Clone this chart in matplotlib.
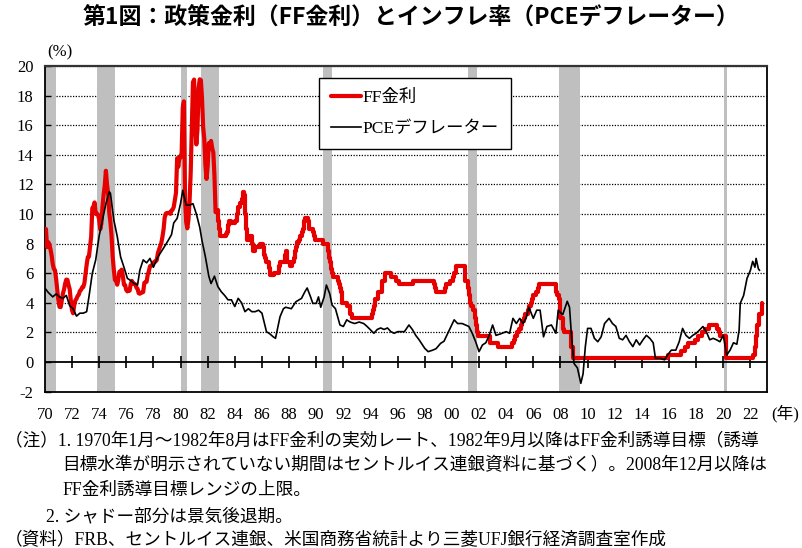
import matplotlib
matplotlib.use('Agg')
import matplotlib.pyplot as plt
import pandas as pd

SERIF = ['Liberation Serif', 'Noto Sans CJK JP']
GOTHIC = ['Noto Sans CJK JP', 'DejaVu Sans']

# FF effective rate, monthly, 1970-01 .. 1982-08
eff_start = '1970-01'
eff_values = [
    8.98, 8.98, 7.76, 8.10, 7.95, 7.61, 7.21, 6.61, 6.29, 6.20, 5.60, 4.90,
    4.14, 3.72, 3.71, 4.16, 4.63, 4.91, 5.31, 5.57, 5.55, 5.20, 4.91, 4.14,
    3.50, 3.29, 3.83, 4.17, 4.27, 4.46, 4.55, 4.80, 4.87, 5.04, 5.06, 5.33,
    5.94, 6.58, 7.09, 7.12, 7.84, 8.49, 10.40, 10.50, 10.78, 10.01, 10.03, 9.95,
    9.65, 8.97, 9.35, 10.51, 11.31, 11.93, 12.92, 12.01, 11.34, 10.06, 9.45, 8.53,
    7.13, 6.24, 5.54, 5.49, 5.22, 5.55, 6.10, 6.14, 6.24, 5.82, 5.22, 5.20,
    4.87, 4.77, 4.84, 4.82, 5.29, 5.48, 5.31, 5.29, 5.25, 5.02, 4.95, 4.65,
    4.61, 4.68, 4.69, 4.73, 5.35, 5.39, 5.42, 5.90, 6.14, 6.47, 6.51, 6.56,
    6.70, 6.78, 6.79, 6.89, 7.36, 7.60, 7.81, 8.04, 8.45, 8.96, 9.76, 10.03,
    10.07, 10.06, 10.09, 10.01, 10.24, 10.29, 10.47, 10.94, 11.43, 13.77, 13.18, 13.78,
    13.82, 14.13, 17.19, 17.61, 10.98, 9.47, 9.03, 9.61, 10.87, 12.81, 15.85, 18.90,
    19.08, 15.93, 14.70, 15.72, 18.52, 19.10, 19.04, 17.82, 15.87, 15.08, 13.31, 12.37,
    13.22, 14.78, 14.68, 14.94, 14.45, 14.15, 12.59, 10.12,
]

# FF target (upper bound after 2008-12), months where the level changes
tgt_months = [
    '1982-09', '1982-10', '1982-11', '1982-12', '1983-05', '1983-06', '1983-07', '1983-08',
    '1983-10', '1984-01', '1984-03', '1984-04', '1984-06', '1984-07', '1984-08', '1984-09',
    '1984-10', '1984-11', '1984-12', '1985-02', '1985-04', '1985-05', '1985-07', '1985-11',
    '1986-02', '1986-03', '1986-04', '1986-05', '1986-07', '1986-08', '1986-12', '1987-04',
    '1987-05', '1987-09', '1987-10', '1987-11', '1988-02', '1988-04', '1988-05', '1988-06',
    '1988-07', '1988-08', '1988-10', '1988-11', '1988-12', '1989-01', '1989-02', '1989-03',
    '1989-06', '1989-07', '1989-10', '1989-11', '1989-12', '1990-07', '1990-11', '1990-12',
    '1991-01', '1991-02', '1991-03', '1991-04', '1991-08', '1991-09', '1991-10', '1991-11',
    '1991-12', '1992-04', '1992-07', '1992-09', '1994-02', '1994-03', '1994-04', '1994-05',
    '1994-08', '1994-11', '1995-02', '1995-07', '1995-12', '1996-02', '1997-03', '1998-09',
    '1998-10', '1998-11', '1999-07', '1999-08', '1999-11', '2000-02', '2000-03', '2000-05',
    '2001-01', '2001-03', '2001-04', '2001-05', '2001-06', '2001-08', '2001-09', '2001-10',
    '2001-11', '2001-12', '2002-11', '2003-06', '2004-06', '2004-08', '2004-09', '2004-11',
    '2004-12', '2005-02', '2005-03', '2005-05', '2005-06', '2005-08', '2005-09', '2005-11',
    '2005-12', '2006-01', '2006-03', '2006-05', '2006-06', '2007-09', '2007-10', '2007-12',
    '2008-01', '2008-03', '2008-04', '2008-10', '2008-12', '2015-12', '2016-12', '2017-03',
    '2017-06', '2017-12', '2018-03', '2018-06', '2018-09', '2018-12', '2019-07', '2019-09',
    '2019-10', '2020-03', '2022-03', '2022-05', '2022-06', '2022-07', '2022-09', '2022-11',
]
tgt_values = [
    10.25, 9.5, 9.0, 8.5, 8.625, 8.75, 9.25, 9.5,
    9.375, 9.5, 10.0, 10.5, 10.75, 11.0, 11.5, 11.25,
    10.0, 9.0, 8.25, 8.5, 8.0, 7.5, 7.75, 8.0,
    7.75, 7.25, 7.0, 6.75, 6.375, 5.875, 6.0, 6.5,
    6.75, 7.25, 7.5, 6.75, 6.5, 6.75, 7.0, 7.5,
    7.75, 8.125, 8.25, 8.5, 8.75, 9.0, 9.5, 9.75,
    9.5, 9.0, 8.75, 8.5, 8.25, 8.0, 7.5, 7.0,
    6.75, 6.25, 6.0, 5.75, 5.5, 5.25, 5.0, 4.75,
    4.0, 3.75, 3.25, 3.0, 3.25, 3.5, 3.75, 4.25,
    4.75, 5.5, 6.0, 5.75, 5.5, 5.25, 5.5, 5.25,
    5.0, 4.75, 5.0, 5.25, 5.5, 5.75, 6.0, 6.5,
    5.5, 5.0, 4.5, 4.0, 3.75, 3.5, 3.0, 2.5,
    2.0, 1.75, 1.25, 1.0, 1.25, 1.5, 1.75, 2.0,
    2.25, 2.5, 2.75, 3.0, 3.25, 3.5, 3.75, 4.0,
    4.25, 4.5, 4.75, 5.0, 5.25, 4.75, 4.5, 4.25,
    3.0, 2.25, 2.0, 1.0, 0.25, 0.5, 0.75, 1.0,
    1.25, 1.5, 1.75, 2.0, 2.25, 2.5, 2.25, 2.0,
    1.75, 0.25, 0.5, 1.0, 1.75, 2.5, 3.25, 4.0,
]

# PCE deflator, y/y %
pce_months = [
    '1970-01', '1970-04', '1970-08', '1970-11', '1971-02', '1971-05', '1971-08', '1971-11',
    '1972-02', '1972-05', '1972-08', '1972-11', '1973-02', '1973-04', '1973-07', '1973-10',
    '1974-01', '1974-04', '1974-07', '1974-10', '1974-11', '1975-02', '1975-05', '1975-08',
    '1975-11', '1976-02', '1976-05', '1976-08', '1976-11', '1977-01', '1977-04', '1977-07',
    '1977-10', '1978-01', '1978-05', '1978-10', '1979-02', '1979-05', '1979-07', '1979-10',
    '1980-01', '1980-03', '1980-06', '1980-09', '1980-12', '1981-03', '1981-06', '1981-08',
    '1981-11', '1982-02', '1982-04', '1982-07', '1982-10', '1983-01', '1983-04', '1983-07',
    '1983-10', '1984-01', '1984-04', '1984-07', '1984-10', '1985-01', '1985-04', '1985-07',
    '1985-10', '1986-01', '1986-05', '1986-08', '1986-11', '1987-01', '1987-05', '1987-08',
    '1987-10', '1988-03', '1988-07', '1988-12', '1989-03', '1989-05', '1989-08', '1989-10',
    '1990-01', '1990-03', '1990-05', '1990-08', '1990-10', '1991-01', '1991-03', '1991-06',
    '1991-10', '1992-01', '1992-04', '1992-07', '1992-11', '1993-03', '1993-07', '1993-10',
    '1994-04', '1994-07', '1994-10', '1995-01', '1995-04', '1995-07', '1995-10', '1996-01',
    '1996-07', '1996-11', '1997-02', '1997-05', '1997-08', '1998-01', '1998-04', '1998-08',
    '1998-11', '1999-03', '1999-06', '1999-10', '2000-03', '2000-06', '2000-10', '2001-01',
    '2001-04', '2001-07', '2001-10', '2002-01', '2002-04', '2002-07', '2002-10', '2003-01',
    '2003-04', '2003-08', '2004-01', '2004-04', '2004-07', '2004-10', '2005-01', '2005-04',
    '2005-07', '2005-09', '2006-01', '2006-04', '2006-07', '2006-10', '2007-01', '2007-05',
    '2007-09', '2007-11', '2008-03', '2008-07', '2008-09', '2008-11', '2009-01', '2009-04',
    '2009-07', '2009-09', '2009-11', '2010-01', '2010-04', '2010-07', '2010-10', '2011-01',
    '2011-04', '2011-08', '2011-11', '2012-02', '2012-05', '2012-08', '2012-11', '2013-02',
    '2013-05', '2013-08', '2013-11', '2014-02', '2014-05', '2014-08', '2014-11', '2015-01',
    '2015-05', '2015-09', '2015-12', '2016-03', '2016-07', '2016-10', '2017-01', '2017-04',
    '2017-07', '2017-10', '2018-01', '2018-04', '2018-07', '2018-10', '2019-01', '2019-04',
    '2019-07', '2019-10', '2020-01', '2020-04', '2020-07', '2020-10', '2021-01', '2021-03',
    '2021-04', '2021-07', '2021-10', '2022-01', '2022-03', '2022-05', '2022-06', '2022-08',
    '2022-09',
]
pce_values = [
    5.0, 4.7, 4.4, 4.6, 4.4, 4.3, 4.5, 3.8,
    3.6, 3.1, 3.3, 3.3, 3.4, 4.4, 6.0, 6.9,
    8.5, 9.6, 10.7, 11.5, 11.4, 9.6, 8.5, 7.1,
    6.4, 5.65, 5.5, 5.3, 5.2, 6.2, 6.9, 6.7,
    7.0, 6.4, 7.1, 7.7, 8.2, 8.6, 9.4, 9.7,
    10.7, 11.6, 10.6, 10.6, 10.7, 10.0, 9.1, 8.2,
    7.1, 5.8, 5.3, 5.8, 5.1, 4.75, 4.5, 4.2,
    4.2, 3.75, 4.3, 4.0, 3.4, 3.6, 3.4, 3.4,
    3.5, 3.3, 2.05, 1.9, 1.7, 1.6, 3.06, 3.6,
    3.7, 3.6, 4.07, 4.3, 4.75, 5.0, 4.4, 3.96,
    3.96, 4.4, 3.7, 4.4, 5.2, 4.6, 3.85, 3.6,
    2.5, 2.4, 2.85, 2.7, 2.6, 2.7, 2.6, 2.4,
    1.94, 2.2, 2.3, 2.2, 2.3, 2.05, 1.94, 2.05,
    2.05, 2.5, 2.2, 1.8, 1.5, 0.92, 0.7, 0.8,
    0.9, 1.26, 1.4, 2.05, 2.85, 2.6, 2.6, 2.5,
    2.4, 1.94, 1.37, 0.7, 1.15, 1.3, 1.8, 2.5,
    1.8, 1.9, 2.05, 1.94, 2.95, 2.6, 2.95, 2.6,
    3.06, 3.7, 2.95, 3.5, 3.5, 1.7, 2.4, 2.5,
    1.94, 3.5, 3.2, 4.1, 3.7, 1.5, -0.1, -0.4,
    -1.44, -0.8, 1.04, 2.27, 2.27, 1.6, 1.37, 1.7,
    2.6, 2.95, 2.6, 2.4, 1.6, 1.5, 1.8, 1.37,
    1.04, 1.5, 1.15, 1.5, 1.8, 1.6, 1.3, 0.25,
    0.25, 0.15, 0.5, 0.8, 0.8, 1.37, 2.27, 1.8,
    1.6, 1.8, 1.94, 2.16, 2.4, 2.05, 1.5, 1.6,
    1.5, 1.37, 1.8, 0.47, 0.8, 1.3, 1.2, 2.16,
    3.96, 4.5, 5.65, 6.2, 6.8, 6.4, 7.0, 6.3,
    6.2,
]

# recessions (shaded)
rec_start = ['1969-12', '1973-11', '1980-01', '1981-07', '1990-07', '2001-03', '2007-12', '2020-02']
rec_end = ['1970-11', '1975-03', '1980-07', '1982-11', '1991-03', '2001-11', '2009-06', '2020-04']

tick_years = list(range(1970, 2023, 2))
y_ticks = list(range(-2, 21, 2))


def dec(m):
    p = pd.Period(m, freq='M')
    return p.year + (p.month - 1) / 12


eff_x = [dec(p) for p in pd.period_range(eff_start, periods=len(eff_values), freq='M').strftime('%Y-%m')]
tgt_x = [dec(m) for m in tgt_months]
pce_x = [dec(m) for m in pce_months]

fig = plt.figure(figsize=(8.02, 5.48), dpi=100)
ax = fig.add_axes([0.0559, 0.2854, 0.9001, 0.5942])

for s, e in zip(rec_start, rec_end):
    ax.axvspan(dec(s), dec(e), color='#bfbfbf', lw=0, zorder=1)

for v in y_ticks[1:]:
    if v != 0:
        ax.axhline(v, color='black', lw=0.9, ls=(0, (1, 1.2)), zorder=0.5)
ax.axhline(0, color='black', lw=1.3, zorder=2)
ax.vlines(tick_years[1:], -0.38, 0.38, color='black', lw=1.2, zorder=2)

red = '#e60000'
ax.plot(eff_x + tgt_x[:1], eff_values + tgt_values[:1], color=red, lw=3.0,
        solid_joinstyle='round', solid_capstyle='round', zorder=3, label='FF金利')
ax.plot(tgt_x, tgt_values, color=red, lw=3.0, drawstyle='steps-post',
        solid_joinstyle='round', solid_capstyle='round', zorder=3)
ax.plot(pce_x, pce_values, color='black', lw=1.2, zorder=4, label='PCEデフレーター')

ax.set_xlim(1970, 2023.2)
ax.set_ylim(-2, 20)
ax.set_yticks(y_ticks)
ax.set_yticklabels([str(v) for v in y_ticks], family='Liberation Serif', fontsize=12)
ax.set_xticks(tick_years)
ax.set_xticklabels([f'{y % 100:02d}' for y in tick_years], family='Liberation Serif', fontsize=12)
ax.tick_params(axis='x', length=0, pad=11)
ax.tick_params(axis='y', direction='in', length=4, width=1, pad=8)

for sp in ['left', 'right', 'bottom']:
    ax.spines[sp].set_linewidth(1.3)
ax.spines['top'].set_linestyle((0, (1, 1)))
ax.spines['top'].set_linewidth(1.6)
ax.spines['top'].set_color('#333333')

leg = ax.legend(loc='upper left', bbox_to_anchor=(0.3797, 0.963), prop={'family': SERIF, 'size': 12.5},
                handlelength=1.7, handletextpad=0.1, borderpad=0.7, labelspacing=0.85,
                borderaxespad=0, fancybox=False, framealpha=1, edgecolor='black')
leg.get_frame().set_linewidth(1.0)

fig.text(0.512, 0.966, '第1図：政策金利（FF金利）とインフレ率（PCEデフレーター）',
         ha='center', va='center', fontsize=16.5, fontweight='bold', family=GOTHIC)
fig.text(0.075, 0.905, '(%)', ha='center', va='center', fontsize=12, family=SERIF)
fig.text(0.962, 0.246, '(年)', ha='left', va='center', fontsize=12, family=SERIF)

notes = [
    (0.006, 0.195, '（注）1. 1970年1月～1982年8月はFF金利の実効レート、1982年9月以降はFF金利誘導目標（誘導'),
    (0.078, 0.151, '目標水準が明示されていない期間はセントルイス連銀資料に基づく）。2008年12月以降は'),
    (0.078, 0.106, 'FF金利誘導目標レンジの上限。'),
    (0.057, 0.057, '2. シャドー部分は景気後退期。'),
    (0.006, 0.014, '（資料）FRB、セントルイス連銀、米国商務省統計より三菱UFJ銀行経済調査室作成'),
]
for x, y, t in notes:
    fig.text(x, y, t, ha='left', va='center', fontsize=12.7, family=SERIF)

fig.savefig('out.png', dpi=100)
